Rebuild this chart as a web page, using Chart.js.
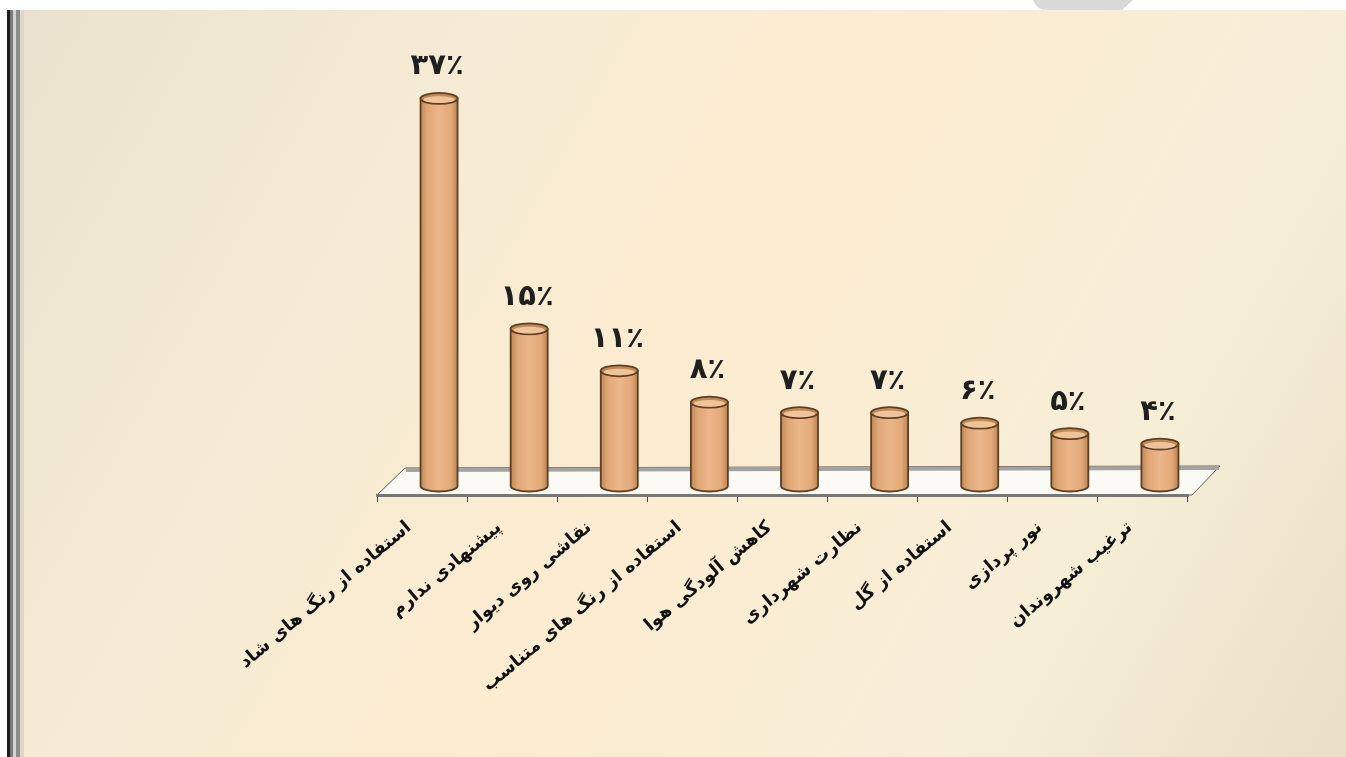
<!DOCTYPE html>
<html lang="fa">
<head>
<meta charset="utf-8">
<script src="https://cdn.jsdelivr.net/npm/chart.js@4.4.1/dist/chart.umd.min.js"></script>
<style>
  html, body { margin: 0; padding: 0; background: #fff; }
  #wrap { width: 1346px; height: 757px; position: relative; }
</style>
</head>
<body>
<div id="wrap"><canvas id="chart" width="1346" height="757"></canvas></div>
<script>
// survey answers, percent
const categories = [
    'استفاده از رنگ های شاد',
    'پیشنهادی ندارم',
    'نقاشی روی دیوار',
    'استفاده از رنگ های متناسب',
    'کاهش آلودگی هوا',
    'نظارت شهرداری',
    'استفاده از گل',
    'نور پردازی',
    'ترغیب شهروندان'
];
const values = [37, 15, 11, 8, 7, 7, 6, 5, 4];
const valueLabels = ['۳۷٪', '۱۵٪', '۱۱٪', '۸٪', '۷٪', '۷٪', '۶٪', '۵٪', '۴٪'];

// bars stand a little behind the front edge of the floor
const DEPTH_X = 17;
const DEPTH_Y = -9;

const backdrop = {
    id: 'backdrop',
    beforeDraw(chart) {
        const { ctx, width, height, chartArea: a } = chart;
        ctx.save();
        ctx.fillStyle = '#fff';
        ctx.fillRect(0, 0, width, height);

        const g = ctx.createLinearGradient(8, 10, width, height);
        g.addColorStop(0, '#eae2ce');
        g.addColorStop(0.25, '#f5ebd4');
        g.addColorStop(0.5, '#fcecd1');
        g.addColorStop(0.78, '#f7eed7');
        g.addColorStop(1, '#e9dfc6');
        ctx.fillStyle = g;
        ctx.fillRect(8, 10, width - 8, height - 10);

        // frame on the left
        ctx.fillStyle = '#1c1c1c'; ctx.fillRect(7, 10, 3, height);
        ctx.fillStyle = '#7a7a7a'; ctx.fillRect(10, 10, 3, height);
        ctx.fillStyle = '#d4d4d0'; ctx.fillRect(13, 10, 3, height);
        ctx.fillStyle = '#8c8c88'; ctx.fillRect(16, 10, 4, height);
        ctx.fillStyle = '#dcd8cc'; ctx.fillRect(20, 10, 4, height);

        // grey tab at the top
        ctx.fillStyle = '#d9d9d9';
        ctx.beginPath();
        ctx.moveTo(1033, 0);
        ctx.quadraticCurveTo(1036, 10, 1048, 10);
        ctx.lineTo(1122, 10);
        ctx.lineTo(1133, 0);
        ctx.closePath();
        ctx.fill();

        // floor
        const b = a.bottom, l = a.left, r = a.right;
        ctx.beginPath();
        ctx.moveTo(l, b);
        ctx.lineTo(r + 4, b);
        ctx.lineTo(r + 32, b - 29);
        ctx.lineTo(l + 28, b - 27);
        ctx.closePath();
        ctx.fillStyle = '#fbfaf5';
        ctx.fill();
        ctx.strokeStyle = '#5a5a5a';
        ctx.lineWidth = 1;
        ctx.stroke();
        ctx.strokeStyle = '#a3a3a0';
        ctx.lineWidth = 4;
        ctx.beginPath();
        ctx.moveTo(l + 29, b - 25);
        ctx.lineTo(r + 31, b - 27);
        ctx.stroke();
        ctx.restore();
    }
};

function bodyGradient(ctx, x, w) {
    const g = ctx.createLinearGradient(x - w / 2, 0, x + w / 2, 0);
    g.addColorStop(0, '#bf8855');
    g.addColorStop(0.18, '#e0a676');
    g.addColorStop(0.5, '#ecb78a');
    g.addColorStop(0.82, '#e3a979');
    g.addColorStop(1, '#bd8553');
    return g;
}

const cylinders = {
    id: 'cylinders',
    afterDatasetsDraw(chart) {
        const { ctx } = chart;
        const meta = chart.getDatasetMeta(0);
        ctx.save();
        ctx.translate(DEPTH_X, DEPTH_Y);
        meta.data.forEach((bar, i) => {
            const { x, y, base, width } = bar.getProps(['x', 'y', 'base', 'width'], true);
            const rx = width / 2, ry = 5.5;
            const g = bodyGradient(ctx, x, width);
            ctx.strokeStyle = '#5e3f24';
            ctx.lineWidth = 1.8;

            // body with rounded bottom
            ctx.beginPath();
            ctx.moveTo(x - rx, y);
            ctx.lineTo(x - rx, base);
            ctx.ellipse(x, base, rx, ry, 0, Math.PI, 0, true);
            ctx.lineTo(x + rx, y);
            ctx.closePath();
            ctx.fillStyle = g;
            ctx.fill();
            ctx.stroke();

            // top lid
            ctx.beginPath();
            ctx.ellipse(x, y, rx, ry, 0, 0, Math.PI * 2);
            ctx.fillStyle = '#c08a55';
            ctx.fill();
            ctx.stroke();
            ctx.beginPath();
            ctx.ellipse(x, y + 1.2, rx - 3, ry - 2.2, 0, 0, Math.PI * 2);
            ctx.fillStyle = '#efc49a';
            ctx.fill();

            // value above the bar
            ctx.fillStyle = '#1f1f1f';
            ctx.font = 'bold 29px "DejaVu Sans"';
            ctx.textAlign = 'center';
            ctx.textBaseline = 'alphabetic';
            ctx.fillText(valueLabels[i], x - 2, y - 24);
        });
        ctx.restore();
    }
};

new Chart(document.getElementById('chart'), {
    type: 'bar',
    data: {
        labels: categories,
        datasets: [{
            data: values,
            backgroundColor: 'rgba(0,0,0,0)',
            borderWidth: 0,
            barThickness: 37
        }]
    },
    options: {
        responsive: false,
        animation: false,
        layout: {
            padding: { left: 377, right: 158, top: 76, bottom: 0 }
        },
        plugins: {
            legend: { display: false },
            tooltip: { enabled: false }
        },
        scales: {
            x: {
                offset: true,
                grid: {
                    offset: true,
                    drawOnChartArea: false,
                    drawTicks: true,
                    tickLength: 7,
                    color: '#444'
                },
                border: { display: true, color: '#777', width: 3 },
                ticks: {
                    autoSkip: false,
                    minRotation: 40,
                    maxRotation: 40,
                    padding: 15,
                    labelOffset: -13,
                    color: '#111',
                    font: { family: 'DejaVu Sans', weight: 'bold', size: 18 }
                },
                afterFit: s => { s.height = 262; }
            },
            y: {
                display: false,
                min: 0,
                max: 40
            }
        }
    },
    plugins: [backdrop, cylinders]
});
</script>
</body>
</html>
